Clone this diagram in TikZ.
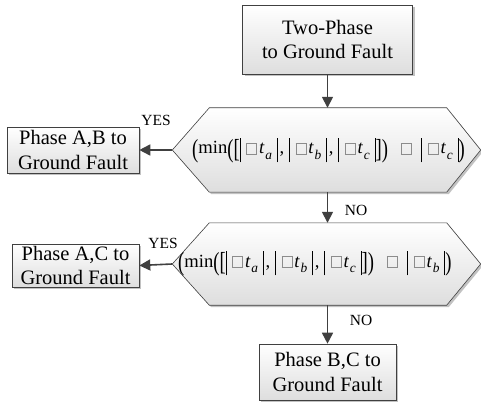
\documentclass[tikz,border=0pt]{standalone}
\usepackage{fontspec}
\setmainfont{Liberation Serif}
\usepackage{graphicx}
\usetikzlibrary{arrows.meta,shadows,backgrounds}

\newcommand\sqb{\textcolor{black!45}{\fboxsep=0pt\fboxrule=0.045em\fbox{\rule{0pt}{0.55em}\hspace{0.5em}}}}
\newcommand\vb{\rule[-0.45em]{0.055em}{1.33em}}
\newcommand\tallch[1]{\raisebox{-0.2em}{\scalebox{1}[1.4]{#1}}}
\newcommand\tsb[1]{\textit{t}\kern0.04em\raisebox{-0.28em}{\fontsize{13.4}{13.4}\selectfont\textit{#1}}}
\newcommand\absv[1]{\vb\hspace{0.3em}\sqb\hspace{0.1em}\tsb{#1}\hspace{0.25em}\vb}
\newcommand\formula[1]{\tallch{(}min\tallch{(}\tallch{[}\absv{a}\hspace{0.1em},\hspace{0.25em}\absv{b}\hspace{0.1em},\hspace{0.25em}\absv{c}\tallch{]}\tallch{)}\hspace{0.7em}\sqb\hspace{0.5em}\absv{#1}\tallch{)}}

\tikzset{
  base/.style={draw=black!75, line width=0.6pt, top color=white, bottom color=black!13,
    drop shadow={shadow xshift=2pt, shadow yshift=-2pt, fill=black!40, opacity=0.6},
    align=center, inner sep=0pt, font=\fontsize{20.5}{24.5}\selectfont},
  hexnode/.style={inner sep=0pt, minimum width=308pt, minimum height=84pt},
  ftext/.style={inner sep=0pt, anchor=base west, font=\fontsize{18.6}{20}\selectfont},
  hexdraw/.style={draw=black!75, line width=0.6pt, top color=white, bottom color=black!13,
    drop shadow={shadow xshift=2pt, shadow yshift=-2pt, fill=black!40, opacity=0.6}},
  arr/.style={draw=black!75, line width=1.6pt, -{Triangle[length=11pt,width=11pt]}},
  lab/.style={inner sep=0pt, font=\fontsize{15.5}{17}\selectfont}
}

\begin{document}
\begin{tikzpicture}[x=1pt,y=-1pt]
\useasboundingbox (0,0) rectangle (481,403);
\node[base, minimum width=170pt, minimum height=69pt] (top) at (327.5,39.5) {Two-Phase\\ to Ground Fault};
\node[hexnode] (h1) at (326.5,150) {};
\node[hexnode, minimum height=82pt] (h2) at (326.5,264) {};
\node[base, minimum width=132pt, minimum height=46pt] (ab) at (73,150) {Phase A,B to\\Ground Fault};
\node[base, minimum width=127pt, minimum height=43pt] (ac) at (75.5,265.5) {Phase A,C to\\Ground Fault};
\node[base, minimum width=137pt, minimum height=56pt] (bc) at (327.5,372) {Phase B,C to\\Ground Fault};

\begin{pgfonlayer}{background}
\path[hexdraw] (h1.west) -- ([xshift=37pt]h1.north west) -- ([xshift=-34pt]h1.north east)
  -- (h1.east) -- ([xshift=-34pt]h1.south east) -- ([xshift=37pt]h1.south west) -- cycle;
\path[hexdraw] (h2.west) -- ([xshift=37pt]h2.north west) -- ([xshift=-34pt]h2.north east)
  -- (h2.east) -- ([xshift=-34pt]h2.south east) -- ([xshift=37pt]h2.south west) -- cycle;
\end{pgfonlayer}

\node[ftext] (f1) at (192,154) {\formula{c}};
\node[ftext] (f2) at (178,267) {\formula{b}};

\draw[arr] (top.south) -- (top.south |- h1.north);
\draw[arr] (h1.west) -- (ab.east);
\draw[arr] (top.south |- h1.south) -- (top.south |- h2.north);
\draw[arr] (h2.west) -- (ac.east);
\draw[arr] (top.south |- h2.south) -- (bc.north);

\node[lab] (yes1) at (156,120) {YES};
\node[lab] (yes2) at (163,243) {YES};
\node[lab] (no1) at (356,210) {NO};
\node[lab] (no2) at (361,320) {NO};
\end{tikzpicture}
\end{document}
